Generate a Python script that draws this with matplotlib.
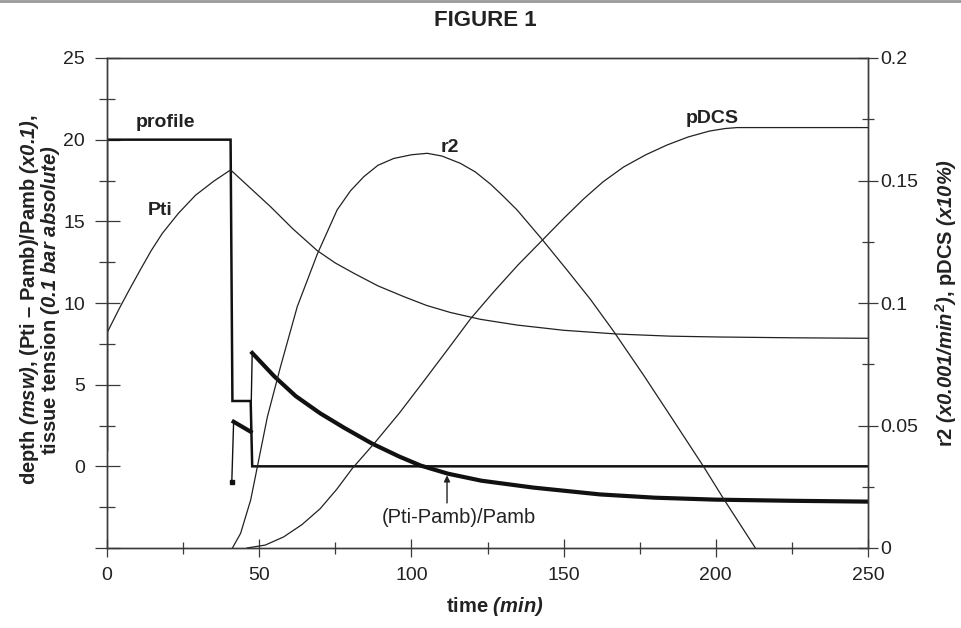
import matplotlib
matplotlib.use("Agg")
from matplotlib import pyplot as plt
from matplotlib import font_manager
from matplotlib.lines import Line2D
from matplotlib.ticker import FixedLocator, FixedFormatter, MultipleLocator


def pick_font(names):
    for n in names:
        try:
            font_manager.findfont(n, fallback_to_default=False)
            return n
        except ValueError:
            continue
    return "DejaVu Sans"


SANS = pick_font(["Liberation Sans", "Arial", "DejaVu Sans"])

plt.rcParams["font.family"] = [SANS, "DejaVu Sans"]
plt.rcParams["mathtext.fontset"] = "custom"
plt.rcParams["mathtext.rm"] = SANS + ":bold:italic"
plt.rcParams["mathtext.it"] = SANS + ":bold:italic"
plt.rcParams["mathtext.bf"] = SANS + ":bold:italic"

# dive profile (depth, msw)
profile_t = [0, 0, 40.6, 41.2, 47.2, 47.7, 250]
profile_d = [1.0, 20, 20, 4, 4, 0, 0]

# tissue tension Pti
pti_t = [0, 4, 7.3, 11, 14.5, 18.2, 23.5, 29.1, 35, 40.6, 47, 53.7, 61, 69.1,
         75, 81.1, 89, 97.5, 105, 112.8, 122.7, 134.7, 150, 167.6, 185, 200.4,
         225, 250]
pti_v = [8.17, 9.65, 10.8, 12.05, 13.2, 14.27, 15.5, 16.6, 17.45, 18.15, 17.05,
         15.9, 14.55, 13.2, 12.45, 11.82, 11.05, 10.39, 9.85, 9.42, 9.0, 8.65,
         8.33, 8.1, 7.97, 7.92, 7.87, 7.84]

# (Pti-Pamb)/Pamb  (x0.1)
ss_t1 = [41.0, 41.6]
ss_v1 = [-0.94, 2.73]
ss_t2 = [41.6, 47.2]
ss_v2 = [2.73, 2.12]
ss_t3 = [47.2, 47.7]
ss_v3 = [2.12, 6.94]
ss_t4 = [47.7, 55, 62, 70, 78, 87, 96, 103, 112, 123, 140, 162, 180, 200, 225, 250]
ss_v4 = [6.94, 5.5, 4.3, 3.25, 2.35, 1.4, 0.6, 0.05, -0.45, -0.88, -1.3, -1.72,
         -1.92, -2.04, -2.11, -2.16]

# r2 (right axis)
r2_t = [41.2, 43.9, 47.2, 49.4, 52.7, 57, 62.5, 69.1, 75.6, 80, 84.4, 89, 94.2,
        100, 105.2, 110, 116.1, 121, 126, 130, 134.7, 142.9, 151.1, 158.8, 166.4,
        176.3, 186.1, 196, 202.6, 213]
r2_v = [0, 0.006, 0.0196, 0.0332, 0.0536, 0.074, 0.0985, 0.120, 0.138, 0.1458,
        0.1516, 0.1562, 0.159, 0.1605, 0.1611, 0.160, 0.157, 0.1535, 0.1485,
        0.1438, 0.138, 0.126, 0.1135, 0.1015, 0.0885, 0.0705, 0.052, 0.0332,
        0.020, 0]

# pDCS (right axis)
pdcs_t = [46, 52, 58, 64, 70, 75.5, 80.6, 88, 96, 104, 112.8, 119.4, 127, 135,
          142.9, 150, 156.6, 163, 169.7, 177, 184, 191, 198, 203, 207, 250]
pdcs_v = [0, 0.0012, 0.0045, 0.0095, 0.016, 0.024, 0.0325, 0.043, 0.055, 0.068,
          0.0825, 0.0935, 0.1045, 0.1155, 0.1255, 0.1345, 0.1425, 0.1495,
          0.1555, 0.1605, 0.1645, 0.1678, 0.1702, 0.1712, 0.1716, 0.1716]

right_ticks = [0, 0.05, 0.1, 0.15, 0.2]
right_labels = ["0", "0.05", "0.1", "0.15", "0.2"]

INK = "#222222"
AX = "#3a3a3a"

fig = plt.figure(figsize=(9.61, 6.28), dpi=100)
ax = fig.add_axes([107 / 961, 80 / 628, 761 / 961, 490 / 628])
ax2 = ax.twinx()

ax.plot(profile_t, profile_d, color="#111111", lw=1.8, solid_joinstyle="miter")
ax.plot(pti_t, pti_v, color=INK, lw=0.9)
ax.plot(ss_t1, ss_v1, color="#111111", lw=1.0)
ax.plot(ss_t2, ss_v2, color="#111111", lw=3.0)
ax.plot(ss_t3, ss_v3, color="#111111", lw=1.0)
ax.plot(ss_t4, ss_v4, color="#111111", lw=3.0)
ax.plot([ss_t1[0]], [ss_v1[0]], marker="s", ms=3, color="#111111")
ax2.plot(r2_t, r2_v, color=INK, lw=0.9)
ax2.plot(pdcs_t, pdcs_v, color=INK, lw=0.9)

ax.set_xlim(0, 250)
ax.set_ylim(-5, 25)
ax2.set_ylim(0, 0.2)

ax.xaxis.set_major_locator(MultipleLocator(50))
ax.xaxis.set_minor_locator(MultipleLocator(25))
ax.yaxis.set_major_locator(FixedLocator([-5, 0, 5, 10, 15, 20, 25]))
ax.yaxis.set_major_formatter(FixedFormatter(["", "0", "5", "10", "15", "20", "25"]))
ax.yaxis.set_minor_locator(FixedLocator([-2.5, 2.5, 7.5, 12.5, 17.5, 22.5]))
ax2.yaxis.set_major_locator(FixedLocator(right_ticks))
ax2.yaxis.set_major_formatter(FixedFormatter(right_labels))
ax2.yaxis.set_minor_locator(MultipleLocator(0.025))

ax.tick_params(axis="y", which="major", direction="inout", length=18, width=0.9,
               pad=7, labelsize=14, color=AX, labelcolor=INK)
ax.tick_params(axis="y", which="minor", direction="inout", length=11, width=0.9, color=AX)
ax.tick_params(axis="x", which="major", direction="inout", length=13, width=0.9,
               pad=7, labelsize=14, color=AX, labelcolor=INK)
ax.tick_params(axis="x", which="minor", direction="inout", length=9, width=0.9, color=AX)
ax2.tick_params(axis="y", which="major", direction="inout", length=15, width=0.9,
                pad=1, labelsize=14, color=AX, labelcolor=INK)
ax2.tick_params(axis="y", which="minor", direction="inout", length=9, width=0.9, color=AX)

for a in (ax, ax2):
    for s in a.spines.values():
        s.set_color(AX)
        s.set_linewidth(1.0)

# curve labels
ax.text(9.4, 20.76, "profile", fontsize=14, fontweight="bold", color=INK,
        ha="left", va="baseline")
ax.text(13.3, 15.39, "Pti", fontsize=14, fontweight="bold", color=INK,
        ha="left", va="baseline")
ax.text(109.6, 19.25, "r2", fontsize=14, fontweight="bold", color=INK,
        ha="left", va="baseline")
ax.text(190, 21.0, "pDCS", fontsize=14, fontweight="bold", color=INK,
        ha="left", va="baseline")
ax.text(115.5, -3.13, "(Pti-Pamb)/Pamb", fontsize=14.5, color=INK,
        ha="center", va="center")
ax.annotate("", xy=(111.7, -0.55), xytext=(111.7, -2.24),
            arrowprops=dict(arrowstyle="-|>", lw=1.0, color=INK, mutation_scale=9,
                            shrinkA=0, shrinkB=0))

# axis titles
lab = dict(fontsize=14.5, fontweight="bold", color=INK)
fig.text(30 / 961, 1 - 300 / 628, r"depth $(msw)$, (Pti – Pamb)/Pamb $(x0.1)$,",
         rotation=90, ha="center", va="center", **lab)
fig.text(51 / 961, 1 - 300 / 628, r"tissue tension $(0.1\ bar\ absolute)$",
         rotation=90, ha="center", va="center", **lab)
fig.text(946 / 961, 1 - 303 / 628, r"r2 $(x0.001/min^2)$, pDCS $(x10\%)$",
         rotation=90, ha="center", va="center", **lab)
fig.text(495 / 961, 1 - 607 / 628, r"time $(min)$", ha="center", va="center", **lab)
fig.text(485 / 961, 1 - 21 / 628, "FIGURE 1", fontsize=16, fontweight="bold",
         color=INK, ha="center", va="center")

fig.add_artist(Line2D([0, 1], [0.998, 0.998], color="#9a9a9a", lw=2.0))

fig.savefig("out.png", dpi=100)
